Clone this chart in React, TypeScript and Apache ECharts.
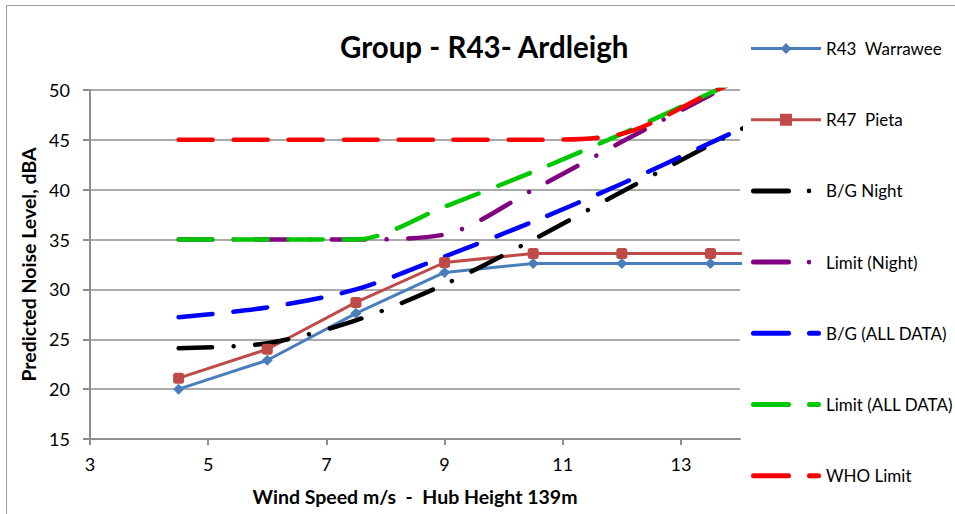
import React, { useEffect, useRef } from "react";
import * as echarts from "echarts";

const windSpeeds = [4.5, 6, 7.5, 9, 10.5, 12, 13.5, 15];
const r43Warrawee = [20.0, 22.9, 27.6, 31.7, 32.6, 32.6, 32.6, 32.6];
const r47Pieta = [21.1, 24.0, 28.7, 32.7, 33.6, 33.6, 33.6, 33.6];
const bgNight = [24.1, 24.6, 26.9, 30.5, 35.0, 39.8, 44.5, 49.0];
const limitNight = [35.0, 35.0, 35.0, 35.5, 40.0, 44.8, 49.5, 54.0];
const bgAllData = [27.2, 28.2, 30.0, 33.3, 36.8, 40.6, 44.7, 48.8];
const limitAllData = [35.0, 35.0, 35.0, 38.3, 41.8, 45.6, 49.7, 53.8];
const whoLimit = [45.0, 45.0, 45.0, 45.0, 45.0, 45.6, 49.7, 53.8];

const seriesNames = [
  "R43  Warrawee",
  "R47  Pieta",
  "B/G Night",
  "Limit (Night)",
  "B/G (ALL DATA)",
  "Limit (ALL DATA)",
  "WHO Limit",
];

const xTicks = { min: 3, max: 14, interval: 2 };
const yTicks = { min: 15, max: 50, interval: 5 };

const FONT = "Lato";

const pairs = (ys: number[]) => windSpeeds.map((x, i) => [x, ys[i]]);

const DASH = [34, 21];
const DASH_DOT = [33.5, 21.5, 0.01, 21.5];

// legend icons (box 70 x 16)
const BOX = "M0,0L0.01,0L0,0.01Z M70,16L69.99,16L70,15.99Z ";
const LINE = "M0,6.5H70V9.5H0Z ";
const LONG = "M2.5,5.5H37.5A2.5,2.5,0,0,1,37.5,10.5H2.5A2.5,2.5,0,0,1,2.5,5.5Z ";
const DOT = "M55.7,8A2.3,2.3,0,1,1,60.3,8A2.3,2.3,0,1,1,55.7,8Z ";
const SHORT = "M58.5,5.5H67.5A2.5,2.5,0,0,1,67.5,10.5H58.5A2.5,2.5,0,0,1,58.5,5.5Z ";
const iconDiamond = "path://" + BOX + LINE + "M35,2.5L40.5,8L35,13.5L29.5,8Z";
const iconSquare = "path://" + BOX + LINE + "M29,2H41V14H29Z";
const iconDashDot = "path://" + BOX + LONG + DOT;
const iconDash = "path://" + BOX + LONG + SHORT;
const legendIcons = [iconDiamond, iconSquare, iconDashDot, iconDashDot, iconDash, iconDash, iconDash];

function dashedSeries(name: string, ys: number[], color: string, dash: number[]) {
  return {
    name,
    type: "line",
    data: pairs(ys),
    showSymbol: false,
    symbol: "none",
    smooth: 0.3,
    lineStyle: { color, width: 4.5, type: dash, cap: "round", join: "round" },
    itemStyle: { color },
  };
}

export default function App() {
  const ref = useRef<HTMLDivElement>(null);
  useEffect(() => {
    if (!ref.current) return;
    const chart = echarts.init(ref.current, null, { renderer: "svg" });
    const gridColor = "#8e8e8e";
    chart.setOption({
      animation: false,
      backgroundColor: "#ffffff",
      textStyle: { fontFamily: FONT },
      title: {
        text: "Group - R43- Ardleigh",
        left: 340,
        top: 26,
        padding: [5, 0, 5, 0],
        textStyle: { fontFamily: FONT, fontSize: 29.5, fontWeight: "bold", color: "#000" },
      },
      graphic: [
        {
          type: "rect",
          shape: { x: 6.5, y: 5.5, width: 1000, height: 600 },
          style: { fill: "none", stroke: "#a0a0a0", lineWidth: 1 },
          silent: true,
        },
      ],
      legend: {
        orient: "vertical",
        left: 746,
        top: 35,
        itemWidth: 70,
        itemHeight: 16,
        itemGap: 54.2,
        itemTextGap: 7,
        textStyle: { fontFamily: FONT, fontSize: 17, color: "#000" },
        data: seriesNames.map((name, i) => ({ name, icon: legendIcons[i] })),
      },
      grid: { left: 90, top: 90, right: 215, bottom: 75 },
      xAxis: {
        type: "value",
        min: xTicks.min,
        max: xTicks.max,
        interval: xTicks.interval,
        name: "Wind Speed m/s  -  Hub Height 139m",
        nameLocation: "middle",
        nameGap: 47,
        nameTextStyle: { fontFamily: FONT, fontSize: 19.5, fontWeight: "bold", color: "#000" },
        axisLine: { show: true, lineStyle: { color: gridColor, width: 2 } },
        axisTick: { show: true, length: 6, lineStyle: { color: gridColor, width: 2 } },
        axisLabel: {
          margin: 16,
          fontFamily: FONT,
          fontSize: 18,
          color: "#000",
          showMaxLabel: false,
        },
        splitLine: { show: false },
      },
      yAxis: {
        type: "value",
        min: yTicks.min,
        max: yTicks.max,
        interval: yTicks.interval,
        name: "Predicted Noise Level, dBA",
        nameLocation: "middle",
        nameGap: 52,
        nameRotate: 90,
        nameTextStyle: { fontFamily: FONT, fontSize: 19.5, fontWeight: "bold", color: "#000" },
        axisLine: { show: true, lineStyle: { color: gridColor, width: 2 } },
        axisTick: { show: true, length: 7, lineStyle: { color: gridColor, width: 2 } },
        axisLabel: { margin: 20, fontFamily: FONT, fontSize: 18, color: "#000" },
        splitLine: { show: true, lineStyle: { color: gridColor, width: 1.5 } },
      },
      series: [
        {
          name: seriesNames[0],
          type: "line",
          data: pairs(r43Warrawee),
          symbol: "diamond",
          symbolSize: 11,
          lineStyle: { color: "#4a7ebb", width: 3 },
          itemStyle: { color: "#4a7ebb" },
        },
        {
          name: seriesNames[1],
          type: "line",
          data: pairs(r47Pieta),
          symbol: "roundRect",
          symbolSize: 11,
          lineStyle: { color: "#be4b48", width: 3 },
          itemStyle: { color: "#be4b48" },
        },
        dashedSeries(seriesNames[2], bgNight, "#000000", DASH_DOT),
        dashedSeries(seriesNames[3], limitNight, "#800080", DASH_DOT),
        dashedSeries(seriesNames[4], bgAllData, "#0000ff", DASH),
        dashedSeries(seriesNames[5], limitAllData, "#00c800", DASH),
        dashedSeries(seriesNames[6], whoLimit, "#ff0000", DASH),
      ],
    });
    return () => chart.dispose();
  }, []);
  return (
    <div
      ref={ref}
      style={{ position: "fixed", left: 0, top: 0, width: 955, height: 514 }}
    />
  );
}
